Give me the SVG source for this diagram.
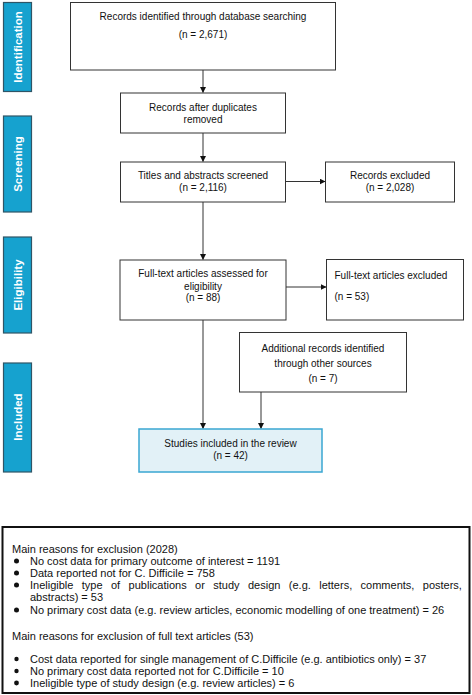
<svg xmlns="http://www.w3.org/2000/svg" width="472" height="695" viewBox="0 0 472 695">
<style>
.box{fill:#fff;stroke:#333;stroke-width:1}
.side{fill:#16a2cf;stroke:#2f5566;stroke-width:1.2}
.st{font-family:"Liberation Sans",Arial,sans-serif;font-size:11.5px;font-weight:bold;fill:#fff;text-anchor:middle}
.t{font-family:"Liberation Sans",Arial,sans-serif;font-size:10px;fill:#111;text-anchor:middle}
.tl{font-family:"Liberation Sans",Arial,sans-serif;font-size:10px;fill:#111}
.b{font-family:"Liberation Sans",Arial,sans-serif;font-size:11px;fill:#111}
.ln{stroke:#333;stroke-width:1;fill:none;marker-end:url(#ah)}
</style>
<defs>
<marker id="ah" markerWidth="6" markerHeight="6" refX="5.5" refY="3" orient="auto" markerUnits="userSpaceOnUse">
<path d="M0,0 L6,3 L0,6 Z" fill="#111"/>
</marker>
</defs>
<rect width="472" height="695" fill="#fff"/>

<g id="side-identification"><rect class="side" x="3.5" y="2.5" width="28" height="89"/><text class="st" transform="translate(21.5,47) rotate(-90)">Identification</text></g>
<g id="side-screening"><rect class="side" x="3.5" y="116" width="28" height="96"/><text class="st" transform="translate(21.5,164) rotate(-90)">Screening</text></g>
<g id="side-eligibility"><rect class="side" x="3.5" y="237" width="28" height="96"/><text class="st" transform="translate(21.5,285) rotate(-90)">Eligibility</text></g>
<g id="side-included"><rect class="side" x="3.5" y="363" width="28" height="109"/><text class="st" transform="translate(21.5,417) rotate(-90)">Included</text></g>

<g id="connectors">
<line class="ln" x1="203" y1="70" x2="203" y2="92.5"/>
<line class="ln" x1="203" y1="133" x2="203" y2="161.5"/>
<line class="ln" x1="285" y1="181.5" x2="325" y2="181.5"/>
<line class="ln" x1="203" y1="202" x2="203" y2="259.5"/>
<line class="ln" x1="286" y1="287" x2="326" y2="287"/>
<line class="ln" x1="203" y1="320" x2="203" y2="428.5"/>
<line class="ln" x1="261" y1="392" x2="261" y2="428.5"/>
</g>

<g id="n1"><rect class="box" x="70.5" y="2.5" width="265" height="67.5"/>
<text class="t" x="203" y="20">Records identified through database searching</text>
<text class="t" x="203" y="38">(n = 2,671)</text></g>

<g id="n2"><rect class="box" x="120.5" y="93" width="165" height="40"/>
<text class="t" x="203" y="111">Records after duplicates</text>
<text class="t" x="203" y="123">removed</text></g>

<g id="n3"><rect class="box" x="120.5" y="162" width="165" height="40"/>
<text class="t" x="203" y="178.5">Titles and abstracts screened</text>
<text class="t" x="203" y="191">(n = 2,116)</text></g>

<g id="n4"><rect class="box" x="325.5" y="162" width="129" height="40"/>
<text class="t" x="390" y="178.5">Records excluded</text>
<text class="t" x="390" y="191">(n = 2,028)</text></g>

<g id="n5"><rect class="box" x="120" y="260" width="166" height="60"/>
<text class="t" x="203" y="277">Full-text articles assessed for</text>
<text class="t" x="203" y="290">eligibility</text>
<text class="t" x="203" y="301">(n = 88)</text></g>

<g id="n6"><rect class="box" x="326.5" y="259.5" width="137" height="60.5"/>
<text class="tl" x="334.5" y="279">Full-text articles excluded</text>
<text class="tl" x="334.5" y="300">(n = 53)</text></g>

<g id="n7"><rect class="box" x="239.5" y="332.5" width="167" height="59.5"/>
<text class="t" x="323" y="351.5">Additional records identified</text>
<text class="t" x="323" y="366.5">through other sources</text>
<text class="t" x="323" y="381.5">(n = 7)</text></g>

<g id="n8"><rect x="139" y="429" width="183" height="43" fill="#e2f1f7" stroke="#3aa6d2" stroke-width="1.5"/>
<text class="t" x="230.5" y="446.5">Studies included in the review</text>
<text class="t" x="230.5" y="459">(n = 42)</text></g>

<g id="n9"><rect x="2.5" y="527" width="467" height="166" fill="#fff" stroke="#111" stroke-width="2"/>
<text class="b" x="12" y="553">Main reasons for exclusion (2028)</text>
<circle cx="16.5" cy="561" r="2.5" fill="#111"/>
<text class="b" x="30" y="565">No cost data for primary outcome of interest = 1191</text>
<circle cx="16.5" cy="573" r="2.5" fill="#111"/>
<text class="b" x="30" y="577">Data reported not for C. Difficile = 758</text>
<circle cx="16.5" cy="585" r="2.5" fill="#111"/>
<text class="b" y="589"><tspan x="30">Ineligible</tspan> <tspan x="81.8">type</tspan> <tspan x="111">of</tspan> <tspan x="128.6">publications</tspan> <tspan x="195.1">or</tspan> <tspan x="213.3">study</tspan> <tspan x="248">design</tspan> <tspan x="288.8">(e.g.</tspan> <tspan x="319.2">letters,</tspan> <tspan x="360.6">comments,</tspan> <tspan x="422.8">posters,</tspan></text>
<text class="b" x="30" y="601">abstracts) = 53</text>
<circle cx="16.5" cy="610" r="2.5" fill="#111"/>
<text class="b" x="30" y="614">No primary cost data (e.g. review articles, economic modelling of one treatment) = 26</text>
<text class="b" x="12" y="640">Main reasons for exclusion of full text articles (53)</text>
<circle cx="16.5" cy="659" r="2.2" fill="#111"/>
<text class="b" x="30" y="663">Cost data reported for single management of C.Difficile (e.g. antibiotics only) = 37</text>
<circle cx="16.5" cy="671" r="2.2" fill="#111"/>
<text class="b" x="30" y="675">No primary cost data reported not for C.Difficile = 10</text>
<circle cx="16.5" cy="683" r="2.4" fill="#111"/>
<text class="b" x="30" y="687">Ineligible type of study design (e.g. review articles) = 6</text>
</g>
</svg>
